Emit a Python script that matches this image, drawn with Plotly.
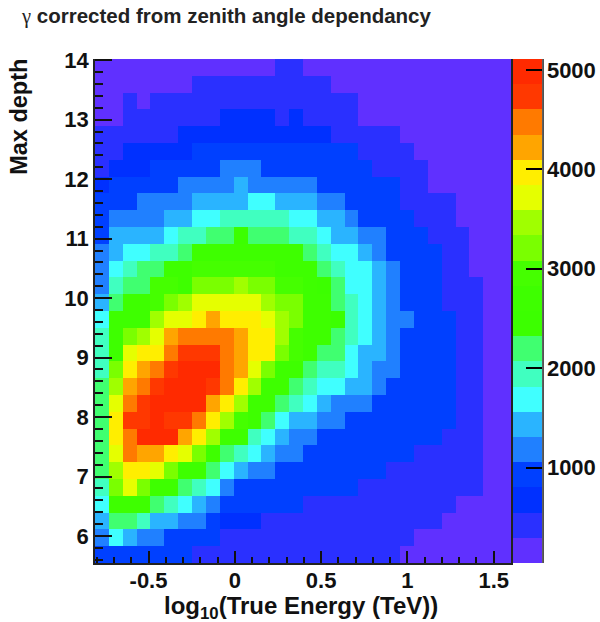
import plotly.graph_objects as go

x_min, x_max = -0.81, 1.6
y_min, y_max = 5.546, 14.02
n_bins = 30
x_centers = [x_min + (x_max - x_min) * (i + 0.5) / n_bins for i in range(n_bins)]
y_centers = [y_max - (y_max - y_min) * (j + 0.5) / n_bins for j in range(n_bins)]

z_min, z_max = 40, 5110
band_colors = ["#6030FF", "#2A30FF", "#0030FF", "#0040FF", "#2080FF", "#2AB4FF", "#40FFFF",
               "#40FFC0", "#40FF70", "#3CFF00", "#3EFF00", "#45FF00", "#7AFF00", "#A0FF00",
               "#E5FF00", "#FFEE00", "#FFA500", "#FF7A00", "#FF3800", "#FF2A00"]

# counts per cell, rows from top (max depth 14) to bottom, columns left to right
counts = [
 [170,170,170,170,170,170,170,170,170,170,170,170,170,420,420,170,170,170,170,170,170,170,170,170,170,170,170,170,170,170],
 [170,170,170,170,170,170,170,420,420,420,420,420,420,420,420,420,420,170,170,170,170,170,170,170,170,170,170,170,170,170],
 [170,170,420,170,420,420,420,420,420,420,420,420,420,420,420,420,420,420,420,170,170,170,170,170,170,170,170,170,170,170],
 [170,170,420,420,420,420,420,420,420,670,670,670,670,420,670,420,420,420,420,170,170,170,170,170,170,170,170,170,170,170],
 [420,420,420,420,420,420,670,670,670,670,670,670,670,670,670,670,670,420,420,420,420,420,170,170,170,170,170,170,170,170],
 [420,420,670,670,670,670,670,930,930,930,930,930,930,930,930,930,930,930,930,420,420,420,420,170,170,170,170,170,170,170],
 [420,670,670,670,930,930,930,930,930,1180,1180,1180,930,930,930,930,930,930,930,930,420,420,420,420,170,170,170,170,170,170],
 [670,930,930,930,930,930,1180,1180,1180,1180,1430,1180,1180,1180,1180,1180,930,930,930,930,930,930,420,420,170,170,170,170,170,170],
 [930,930,930,1180,1180,1180,1180,1430,1430,1430,1430,1690,1690,1430,1430,1430,1180,1180,930,930,930,930,420,420,420,420,170,170,170,170],
 [930,1180,1180,1180,1180,1430,1430,1690,1690,1940,1940,1940,1940,1940,1690,1690,1430,1430,1180,930,930,930,930,420,420,420,170,170,170,170],
 [930,1430,1430,1430,1430,1690,1940,1940,2200,2200,2450,2200,2200,2200,1940,1940,1690,1430,1430,1180,1180,930,930,930,420,420,420,170,170,170],
 [1180,1430,1690,1690,1940,1940,2200,2700,2700,2700,2700,2700,2700,2700,2700,2200,1940,1690,1690,1430,1180,930,930,930,930,420,420,170,170,170],
 [1180,1690,1940,2200,2200,2700,2700,2960,2960,2960,2960,2960,2960,2700,2700,2700,2200,1940,1690,1690,1430,1180,930,930,930,420,420,170,170,170],
 [1180,1940,2200,2200,2960,2960,2700,3210,3210,3210,3460,3210,3210,2960,2960,2700,2450,2200,1690,1690,1430,1180,930,930,930,420,420,420,170,170],
 [1430,2200,2700,2700,2960,3210,3460,3720,3720,3720,3720,3720,3460,3210,3210,2700,2700,2200,1940,1690,1430,1180,930,930,930,420,420,420,170,170],
 [1690,2700,2700,2700,3460,3720,3720,3970,4220,3970,3970,3970,3720,3460,3210,2700,2700,2450,1940,1690,1430,1180,1180,930,930,930,420,420,170,170],
 [1940,2700,3210,3460,3720,4220,4480,4480,4480,4480,4220,3970,3970,3460,2960,2700,2700,2200,1940,1690,1430,1180,930,930,930,930,420,420,170,170],
 [1940,2700,3720,3970,3970,4480,4730,4730,4730,4480,4220,3970,3970,3210,2960,2700,2200,2200,1690,1430,1430,1180,930,930,930,930,420,420,170,170],
 [1940,3210,3970,4220,4480,4730,4980,4980,4980,4480,4220,3720,3210,2700,2700,2200,1940,1940,1690,1430,1180,1180,930,930,930,930,420,420,170,170],
 [2200,3460,4220,4480,4730,4980,4980,4980,4730,4480,3970,3460,2700,2700,2200,1940,1690,1690,1430,1430,1180,930,930,930,930,930,420,420,170,170],
 [2200,3720,4480,4730,4980,4980,4980,4980,4220,3970,3460,2700,2700,2200,1940,1690,1430,1180,1180,1180,930,930,930,930,930,930,420,420,170,170],
 [2200,3970,4730,4730,4980,4730,4730,4480,3970,3460,2960,2700,2200,1690,1430,1430,1180,1180,930,930,930,930,930,930,930,930,420,420,170,170],
 [2200,3970,4480,4980,4980,4980,4220,3970,3460,2700,2700,1940,1690,1430,1180,1180,930,930,930,930,930,930,930,930,930,420,420,420,170,170],
 [2200,3720,4480,4220,4220,3970,3720,3210,2700,2200,1940,1690,1430,1180,1180,930,930,930,930,930,930,930,930,420,420,420,420,420,170,170],
 [2200,3460,3970,3970,3720,3210,2700,2700,2200,1690,1430,1180,1180,930,930,930,930,930,930,930,930,420,420,420,420,420,420,420,170,170],
 [1940,3210,3720,3210,2700,2700,2200,1940,1690,1180,930,930,930,930,930,930,930,930,930,420,420,420,420,420,420,420,420,420,170,170],
 [1690,2700,2700,2700,2200,1940,1690,1430,1180,930,930,930,930,930,930,420,420,420,420,420,420,420,420,420,420,420,170,170,170,170],
 [1430,2200,2200,1940,1430,1430,1180,1180,930,670,670,670,420,420,420,420,420,420,420,420,420,420,420,420,420,170,170,170,170,170],
 [1180,1690,1430,1180,1180,930,930,930,930,420,420,420,420,420,420,420,420,420,420,420,420,420,420,170,170,170,170,170,170,170],
 [930,930,930,930,930,930,930,420,420,420,420,420,420,420,420,420,420,420,420,420,420,420,170,170,170,170,170,170,170,170],
]

x_tick_vals = [-0.5, 0, 0.5, 1, 1.5]
x_tick_text = ["-0.5", "0", "0.5", "1", "1.5"]
y_tick_vals = [6, 7, 8, 9, 10, 11, 12, 13, 14]
cbar_tick_vals = [1000, 2000, 3000, 4000, 5000]

n = len(band_colors)
colorscale = []
for i, c in enumerate(band_colors):
    colorscale.append([i / n, c])
    colorscale.append([(i + 1) / n, c])

font = "Liberation Sans"
ink = "#111111"
tick_font = dict(family=font, size=22, color=ink, weight=700)

fig = go.Figure(go.Heatmap(
    x=x_centers, y=y_centers, z=counts,
    zmin=z_min, zmax=z_max, colorscale=colorscale,
    hoverinfo="skip",
    colorbar=dict(
        x=1.006, xanchor="left", xpad=0, y=1, yanchor="top", ypad=0,
        thickness=29, thicknessmode="pixels", len=504, lenmode="pixels",
        outlinewidth=0, ticks="inside", ticklen=16, tickwidth=1.5, tickcolor="black",
        tickvals=cbar_tick_vals, ticktext=[str(v) for v in cbar_tick_vals],
        tickfont=tick_font,
    ),
))

fig.update_layout(
    width=600, height=622, autosize=False,
    margin=dict(l=95, r=89, t=59, b=59, autoexpand=False),
    paper_bgcolor="white", plot_bgcolor="white",
    font=dict(family=font),
    showlegend=False,
    xaxis=dict(
        range=[x_min, x_max], tickmode="array", tickvals=x_tick_vals, ticktext=x_tick_text,
        ticks="inside", ticklen=12, tickwidth=1.5, tickcolor=ink,
        minor=dict(ticks="inside", ticklen=6, tickwidth=1.5, tickcolor=ink, dtick=0.1, tick0=0),
        showline=True, linecolor="#222222", linewidth=1.5, showgrid=False, zeroline=False,
        tickfont=tick_font, ticklabelstandoff=-3,
    ),
    yaxis=dict(
        range=[y_min, y_max], tickmode="array", tickvals=y_tick_vals,
        ticks="inside", ticklen=17, tickwidth=1.5, tickcolor=ink,
        minor=dict(ticks="inside", ticklen=8, tickwidth=1.5, tickcolor=ink, dtick=0.2, tick0=0),
        showline=True, linecolor="#222222", linewidth=1.5, mirror=True, showgrid=False, zeroline=False,
        tickfont=tick_font,
    ),
    annotations=[
        dict(text="<b>Max depth</b>", textangle=-90, xref="paper", yref="paper", x=-0.183, y=1.004,
             xanchor="center", yanchor="top", showarrow=False,
             font=dict(family=font, size=23.5, color=ink)),
        dict(text="<b>log<sub>10</sub>(True Energy (TeV))</b>", xref="paper", yref="paper",
             x=0.4955, y=-0.054, xanchor="center", yanchor="top", showarrow=False,
             font=dict(family=font, size=24, color=ink)),
        dict(text='<span style="font-family:Liberation Serif">γ</span> <b>corrected from zenith angle dependancy</b>',
             xref="paper", yref="paper", x=-0.182, y=1.085, xanchor="left", yanchor="middle",
             showarrow=False, font=dict(family=font, size=20.5, color="#222222")),
    ],
    shapes=[dict(type="line", xref="paper", yref="paper", x0=1.077, x1=1.077, y0=0, y1=1,
                 line=dict(color="#222222", width=1.5))],
)

fig.write_html("out.html", config={"displayModeBar": False},
               post_script="document.body.style.margin='0';")
